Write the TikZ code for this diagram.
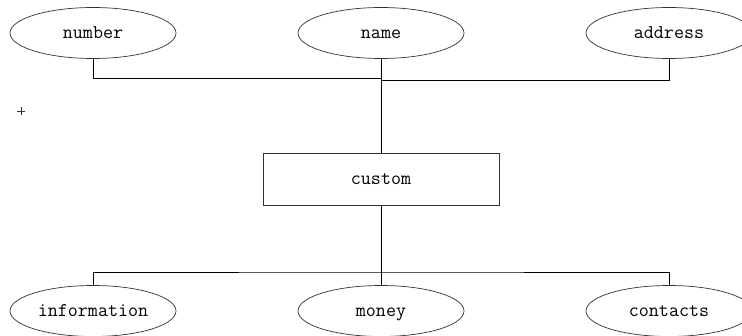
\documentclass[tikz,border=0pt]{standalone}
\usetikzlibrary{shapes.geometric,calc}
\begin{document}
\begin{tikzpicture}[x=1pt,y=-1pt,
  lbl/.style={font=\ttfamily\fontsize{19.5}{21}\selectfont, text height=11pt, text depth=1pt},
  attr/.style={lbl, draw=black!80, ellipse, minimum width=166pt, minimum height=51pt, inner sep=0pt, line width=0.7pt},
  ent/.style={lbl, draw=black!80, rectangle, minimum width=236pt, minimum height=52pt, inner sep=0pt, line width=0.7pt},
  conn/.style={draw=black, line width=0.9pt}]
\useasboundingbox (0,0) rectangle (742,335);
\clip (0,0) rectangle (742,335);
\fill[white] (0,0) rectangle (742,335);
\node[attr] (number) at (93,33) {number};
\node[attr] (name) at (381,33) {name};
\node[attr] (address) at (669,33) {address};
\node[ent] (custom) at (381,179) {custom};
\node[attr] (information) at (93,311) {information};
\node[attr] (money) at (381,311) {money};
\node[attr] (contacts) at (669,311) {contacts};
\coordinate (j1) at (381,78);
\coordinate (j2) at (382,80);
\coordinate (j3) at (381,272);
\draw[conn] (number.south) |- (j1);
\draw[conn] (address.south) |- (j2);
\draw[conn] (name.south) -- (custom.north);
\draw[conn] (custom.south) -- (money.north);
\draw[conn] (information.north) |- (j3) -| (contacts.north);
% small marker
\coordinate (m) at (21,111);
\draw[line width=0.6pt, black!80] ($(m)+(-4,0)$) -- ($(m)+(4,0)$);
\draw[line width=0.6pt, black!80] ($(m)+(0,-4)$) -- ($(m)+(0,4)$);
\end{tikzpicture}
\end{document}
